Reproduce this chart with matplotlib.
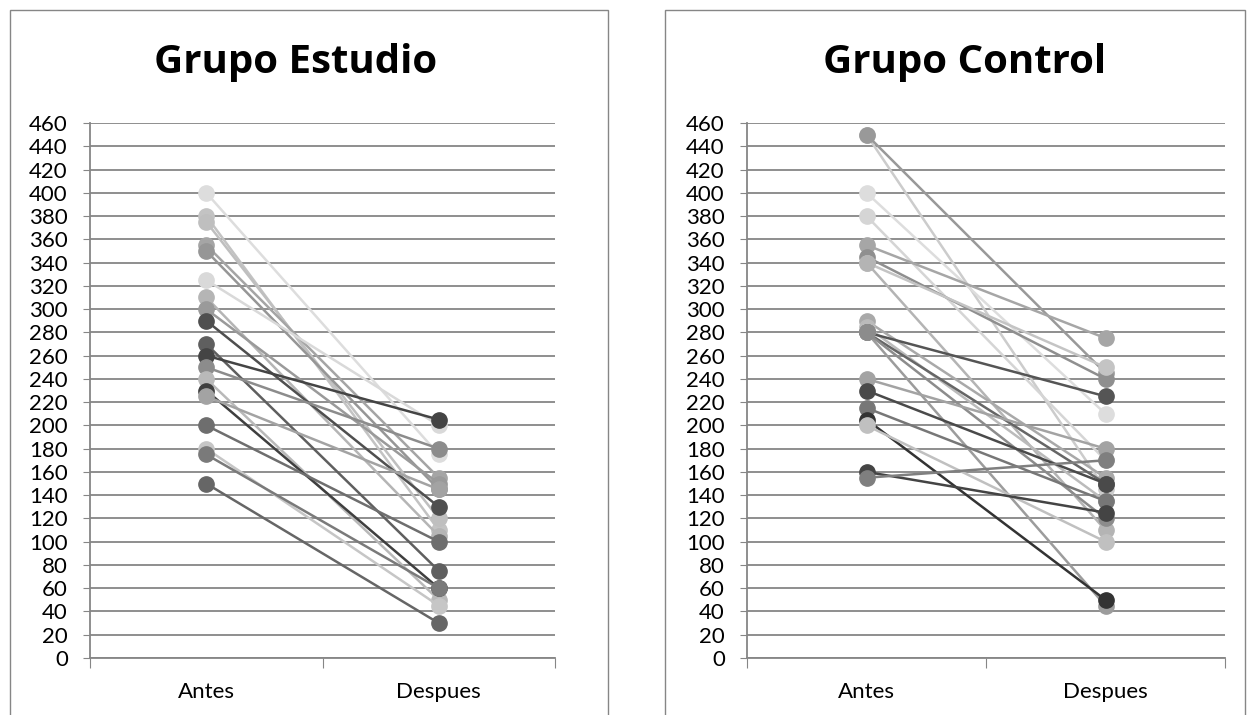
import matplotlib
matplotlib.use("Agg")
import matplotlib.pyplot as plt
from matplotlib.patches import Rectangle

plt.rcParams['font.family'] = ['Lato', 'DejaVu Sans']

categories = ["Antes", "Despues"]
y_ticks = list(range(0, 461, 20))

# Grupo Estudio: (antes, despues) per subject, with grey shade
estudio_antes = [400, 380, 375, 355, 350, 325, 310, 300, 290, 270,
                 260, 250, 240, 230, 225, 200, 180, 175, 150]
estudio_despues = [175, 110, 120, 155, 145, 200, 105, 150, 130, 75,
                   205, 180, 50, 60, 145, 100, 45, 60, 30]
estudio_colors = ["#dddddd", "#c3c3c3", "#bfbfbf", "#a5a5a5", "#969696",
                  "#d9d9d9", "#b5b5b5", "#9a9a9a", "#4f4f4f", "#5f5f5f",
                  "#444444", "#8c8c8c", "#b9b9b9", "#3f3f3f", "#a3a3a3",
                  "#6e6e6e", "#c6c6c6", "#7a7a7a", "#666666"]

# Grupo Control
control_antes = [450, 450, 400, 380, 355, 345, 340, 340, 290, 285,
                 280, 280, 280, 280, 240, 230, 215, 205, 200, 160, 155]
control_despues = [145, 245, 210, 170, 275, 240, 250, 110, 155, 135,
                   225, 150, 45, 120, 180, 150, 135, 50, 100, 125, 170]
control_colors = ["#cccccc", "#999999", "#dddddd", "#d5d5d5", "#a6a6a6",
                  "#8f8f8f", "#c4c4c4", "#b4b4b4", "#a9a9a9", "#bbbbbb",
                  "#555555", "#666666", "#9c9c9c", "#8c8c8c", "#a3a3a3",
                  "#4a4a4a", "#777777", "#333333", "#c0c0c0", "#444444",
                  "#7f7f7f"]

GRID = "#868686"
W, H = 1254, 715


def draw_panel(fig, box, axrect, title, title_x, antes, despues, colors):
    # outer chart border
    x0, y0, x1, y1 = box
    fig.add_artist(Rectangle((x0 / W, 1 - y1 / H), (x1 - x0) / W, (y1 - y0) / H,
                             transform=fig.transFigure, fill=False,
                             edgecolor=GRID, lw=1.0))
    fig.text(title_x / W, 1 - 62 / H, title, ha="center", va="center",
             fontsize=29, fontweight="bold", family=["Open Sans", "DejaVu Sans"])

    ax = fig.add_axes(axrect)
    for a, d, c in zip(antes, despues, colors):
        ax.plot([0, 1], [a, d], color=c, lw=1.8, marker="o", ms=11,
                markeredgecolor=c, solid_capstyle="round")

    ax.set_xlim(-0.5, 1.5)
    ax.set_ylim(0, 460)
    ax.set_yticks(y_ticks)
    ax.set_yticklabels([str(v) for v in y_ticks], fontsize=16)
    ax.yaxis.grid(True, color=GRID, lw=1.3)
    ax.set_axisbelow(True)
    ax.tick_params(axis="y", length=5, color=GRID, pad=11)

    ax.set_xticks([-0.5, 0.5, 1.5])
    ax.set_xticklabels([])
    ax.tick_params(axis="x", which="major", length=7, color=GRID, direction="out")
    ax.set_xticks([0, 1], minor=True)
    ax.set_xticklabels(categories, minor=True, fontsize=16)
    ax.tick_params(axis="x", which="minor", length=0, pad=17)

    for s in ["top", "right"]:
        ax.spines[s].set_visible(False)
    ax.spines["left"].set_color(GRID)
    ax.spines["bottom"].set_color(GRID)
    ax.spines["left"].set_linewidth(1.3)
    ax.spines["bottom"].set_linewidth(1.3)
    return ax


fig = plt.figure(figsize=(W / 100, H / 100), dpi=100)

draw_panel(fig, (10, 10, 608, 730),
           [90 / W, (H - 658) / H, 465 / W, 535 / H],
           "Grupo Estudio", 296, estudio_antes, estudio_despues, estudio_colors)
draw_panel(fig, (665, 10, 1245, 730),
           [747 / W, (H - 658) / H, 478 / W, 535 / H],
           "Grupo Control", 965, control_antes, control_despues, control_colors)

fig.savefig("out.png", dpi=100)
